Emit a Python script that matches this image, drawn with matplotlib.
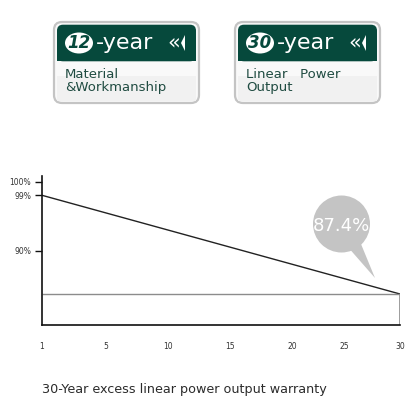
import numpy as np
import matplotlib.pyplot as plt
from matplotlib.patches import FancyBboxPatch, Rectangle, Ellipse, Circle, Polygon
from matplotlib.scale import FuncScale

# data
years = [1, 30]
power = [99.0, 87.4]
x_ticks = [1, 5, 10, 15, 20, 25, 30]
x_marks = [5, 15, 20, 25, 30]
y_ticks = [90, 99, 100]
y_labels = ["90%", "99%", "100%"]
end_label = "87.4%"
badges = [("12", "Material\n&Workmanship"), ("30", "Linear   Power\nOutput")]
title = "30-Year excess linear power output warranty"

GREEN = "#06493c"

# the original picture is not to scale, so use piecewise scales
yv = np.array([85.0, 87.4, 90.0, 99.0, 100.0, 100.5])
yp = np.array([0.0, 31.0, 74.0, 129.7, 143.3, 150.0])
xv = np.array([1, 5, 10, 15, 20, 25, 30], dtype=float)
xp = np.array([42, 106, 168, 230, 292, 344, 400], dtype=float)

def fy(v):
    return np.interp(v, yv, yp)

def iy(p):
    return np.interp(p, yp, yv)

def fx(v):
    return np.interp(v, xv, xp)

def ix(p):
    return np.interp(p, xp, xv)

fig = plt.figure(figsize=(4.17, 4.13), dpi=100)

ax = fig.add_axes([42 / 417, (413 - 325) / 413, (400 - 42) / 417, (325 - 176) / 413])
ax.set_xscale(FuncScale(ax.xaxis, (fx, ix)))
ax.set_yscale(FuncScale(ax.yaxis, (fy, iy)))
ax.set_xlim(1, 30)
ax.set_ylim(iy(0), iy(149))

ax.plot(years, power, color="#222222", linewidth=1.0, solid_capstyle="butt")
ax.hlines(power[-1], years[0], years[-1], color="#8c8c8c", linewidth=1.0)
ax.vlines(years[-1], iy(0), power[-1], color="#8c8c8c", linewidth=1.2)

for s in ["top", "right"]:
    ax.spines[s].set_visible(False)
for s in ["left", "bottom"]:
    ax.spines[s].set_linewidth(1.2)
    ax.spines[s].set_color("#111111")

ax.set_xticks(x_ticks)
ax.set_xticklabels([str(t) for t in x_ticks])
ax.tick_params(axis="x", which="major", length=0, pad=12, labelsize=5.5, labelcolor="#333333")
ax.set_xticks(x_marks, minor=True)
ax.tick_params(axis="x", which="minor", length=4, width=1.0, color="#111111")
ax.set_yticks(y_ticks)
ax.set_yticklabels(y_labels)
ax.yaxis.set_minor_locator(plt.NullLocator())
ax.tick_params(axis="y", length=5, width=1.0, pad=3, labelsize=5.5, labelcolor="#333333", color="#111111")

# overlay in pixel coordinates for badges, bubble and title
ov = fig.add_axes([0, 0, 1, 1], zorder=5)
ov.set_xlim(0, 417)
ov.set_ylim(413, 0)
ov.axis("off")
ov.patch.set_alpha(0)

for i, (num, desc) in enumerate(badges):
    x0 = 54 + i * 181
    ov.add_patch(FancyBboxPatch((x0, 22), 145, 81, boxstyle="round,pad=0,rounding_size=8",
                                facecolor="#f9f9f9", edgecolor="#c4c4c4", linewidth=1.6))
    ov.add_patch(Rectangle((x0 + 3, 76), 139, 25, facecolor="#f1f1f1", edgecolor="none"))
    ov.add_patch(FancyBboxPatch((x0 + 3, 24.7), 139, 36.6, boxstyle="round,pad=0,rounding_size=6",
                                facecolor=GREEN, edgecolor="none"))
    ov.add_patch(Rectangle((x0 + 3, 50), 139, 11.3, facecolor=GREEN, edgecolor="none"))
    ov.add_patch(Ellipse((x0 + 25, 43), 28, 21, facecolor="white", edgecolor="none"))
    ov.text(x0 + 25, 43.5, num, color=GREEN, fontsize=12, fontweight="bold", fontstyle="italic",
            ha="center", va="center")
    ov.text(x0 + 42, 43, "-year", color="white", fontsize=16, ha="left", va="center")
    ov.text(x0 + 113, 42, "«", color="white", fontsize=15, ha="left", va="center")
    ov.add_patch(Polygon([[x0 + 127, 43], [x0 + 131, 35], [x0 + 131, 51]], closed=True,
                         facecolor="white", edgecolor="none"))
    ov.text(x0 + 11, 81, desc, color="#1f4b41", fontsize=9.5, ha="left", va="center",
            linespacing=1.05)

# speech bubble with the end value
ov.add_patch(Polygon([[347, 246], [375, 278], [361, 244]], closed=True,
                     facecolor="#c4c4c4", edgecolor="none"))
ov.add_patch(Circle((341.5, 224), 28.5, facecolor="#c4c4c4", edgecolor="none"))
ov.text(341.5, 226, end_label, color="white", fontsize=13, ha="center", va="center")

ov.text(42, 390, title, color="#2b2b2b", fontsize=9.2, ha="left", va="center")

fig.savefig("out.png", dpi=100)
